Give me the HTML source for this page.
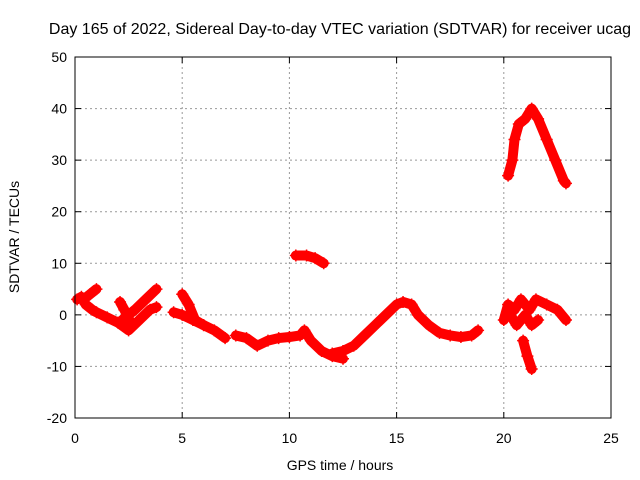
<!DOCTYPE html>
<html><head><meta charset="utf-8"><style>
body{margin:0;background:#fff}
svg{display:block;font-family:"Liberation Sans",sans-serif}
</style></head><body>
<svg id="chart" width="640" height="480" viewBox="0 0 640 480">
<text x="340" y="34" font-size="16" text-anchor="middle">Day 165 of 2022, Sidereal Day-to-day VTEC variation (SDTVAR) for receiver ucag</text>
<text x="340" y="470" font-size="14" text-anchor="middle">GPS time / hours</text>
<text transform="translate(19,237) rotate(-90)" font-size="14" text-anchor="middle">SDTVAR / TECUs</text>
<g id="grid"></g><g id="series"></g><g id="axes"></g>
</svg>
<script>
const xTicks=[0,5,10,15,20,25];
const yTicks=[-20,-10,0,10,20,30,40,50];
const segA=[[0.1,3],[0.3,3.5],[0.5,2],[0.8,1],[1.0,0.5],[1.5,-0.5],[2.0,-1.5],[2.5,-3],[3.0,-1],[3.5,1],[3.8,1.5]];
const segA2=[[0.4,3],[0.7,4],[1.0,5]];
const segA3=[[2.2,-1],[2.8,1],[3.3,3],[3.8,5]];
const segA4=[[2.1,2.5],[2.3,1],[2.6,-1.5]];
const segB=[[4.6,0.5],[5.0,0],[5.5,-1],[6.0,-2],[6.5,-3],[7.0,-4.5]];
const segB2=[[5.0,4],[5.3,2],[5.6,-1],[6.0,-2]];
const segC=[[7.5,-4],[8.0,-4.5],[8.5,-6],[9.0,-5],[9.5,-4.5],[10.0,-4.3],[10.5,-4],[10.7,-3],[11.0,-5],[11.5,-7],[12.0,-8],[12.5,-8.5]];
const segD=[[12.0,-7.5],[12.5,-7],[13,-6],[13.5,-4],[14,-2],[14.5,0],[15,2],[15.3,2.5],[15.7,2],[16,0],[16.5,-2],[17,-3.5],[17.5,-4],[18,-4.3],[18.5,-4],[18.8,-3]];
const segE=[[10.3,11.5],[10.8,11.5],[11.2,11],[11.6,10]];
const segF=[[20.2,27],[20.4,30],[20.5,34],[20.7,37],[21,38],[21.3,40],[21.6,38],[22,34],[22.4,30],[22.8,26],[22.9,25.5]];
const segG=[[20.0,-1],[20.2,2],[20.5,1],[20.8,3],[21.2,1],[21.5,3],[22,2],[22.5,1],[22.9,-1]];
const segG2=[[20.3,0],[20.6,-2],[21,0],[21.3,-2],[21.6,-1]];
const segH=[[20.9,-5],[21.1,-8],[21.3,-10.5]];
const allSegs=[segA,segA2,segA3,segA4,segB,segB2,segC,segD,segE,segF,segG,segG2,segH];
const X0=75,X1=611,Y0=418,Y1=57;
const xs=v=>X0+(v-0)/25*(X1-X0);
const ys=v=>Y0-(v+20)/70*(Y0-Y1);
const NS="http://www.w3.org/2000/svg";
function mk(t,a,p){const e=document.createElementNS(NS,t);for(const k in a)e.setAttribute(k,a[k]);p.appendChild(e);return e;}
const grid=document.getElementById('grid'),axes=document.getElementById('axes'),ser=document.getElementById('series');
xTicks.forEach(t=>{
 if(t>0&&t<25){const l=mk('line',{x1:xs(t),x2:xs(t),y1:Y1,y2:Y0,stroke:'#999','stroke-dasharray':'2,3'},grid);
 
 }
 mk('line',{x1:xs(t),x2:xs(t),y1:Y0,y2:Y0-6,stroke:'#000'},axes);
 mk('line',{x1:xs(t),x2:xs(t),y1:Y1,y2:Y1+6,stroke:'#000'},axes);
 const tx=mk('text',{x:xs(t),y:Y0+25,'font-size':14,'text-anchor':'middle'},axes);tx.textContent=t;
 
 
});
yTicks.forEach(t=>{
 if(t>-20&&t<50){const l=mk('line',{x1:X0,x2:X1,y1:ys(t),y2:ys(t),stroke:'#999','stroke-dasharray':'2,3'},grid);
 
 }
 mk('line',{x1:X0,x2:X0+6,y1:ys(t),y2:ys(t),stroke:'#000'},axes);
 mk('line',{x1:X1,x2:X1-6,y1:ys(t),y2:ys(t),stroke:'#000'},axes);
 const tx=mk('text',{x:X0-8,y:ys(t)+5,'font-size':14,'text-anchor':'end'},axes);tx.textContent=t;
 
 
});
const fr=mk('rect',{x:X0,y:Y1,width:X1-X0,height:Y0-Y1,fill:'none',stroke:'#000'},axes);


allSegs.forEach(s=>{
 const pl=mk('polyline',{points:s.map(p=>xs(p[0])+','+ys(p[1])).join(' '),fill:'none',stroke:'#f00','stroke-width':10,'stroke-linejoin':'round','stroke-linecap':'round'},ser);
 
 
 s.forEach(p=>{
  const m=mk('path',{d:`M${xs(p[0])-6},${ys(p[1])}h12M${xs(p[0])},${ys(p[1])-6}v12`,stroke:'#f00','stroke-width':1.5},ser);
  
  
 });
});
</script>
</body></html>
